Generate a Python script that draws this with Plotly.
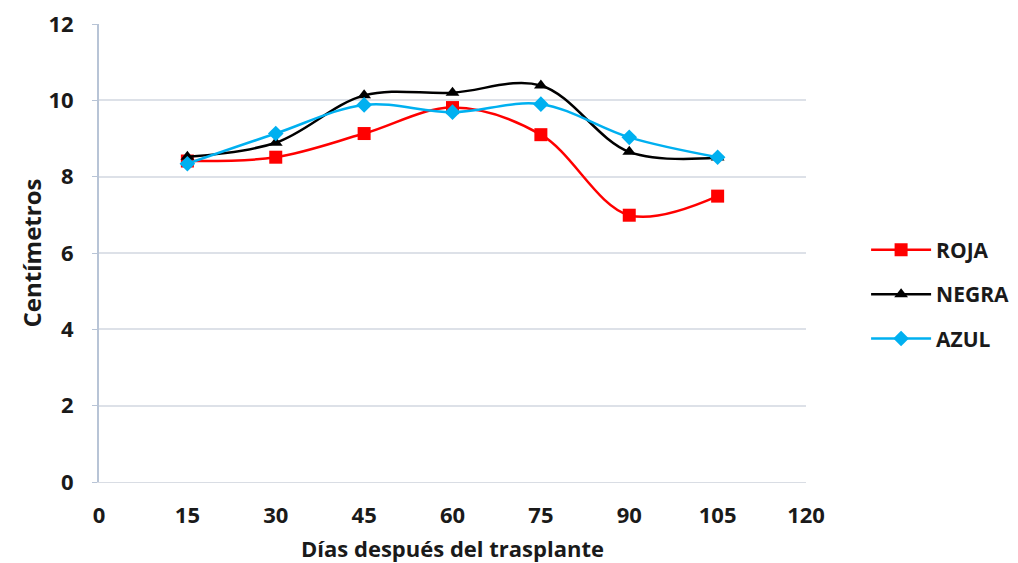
import plotly.graph_objects as go

dias = [15, 30, 45, 60, 75, 90, 105]
roja = [8.41, 8.51, 9.13, 9.81, 9.10, 6.99, 7.49]
negra = [8.52, 8.89, 10.13, 10.20, 10.39, 8.65, 8.50]
azul = [8.34, 9.13, 9.88, 9.69, 9.90, 9.03, 8.51]

x_ticks = [0, 15, 30, 45, 60, 75, 90, 105, 120]
y_ticks = [0, 2, 4, 6, 8, 10, 12]

FONT = "Open Sans, sans-serif"
TXT = "#1a1a1a"

fig = go.Figure()
series = [
    ("ROJA", roja, "#FF0000", "square", 13),
    ("NEGRA", negra, "#000000", "triangle-up", 12),
    ("AZUL", azul, "#00B0F0", "diamond", 12),
]
for i, (name, vals, col, sym, sz) in enumerate(series):
    fig.add_trace(go.Scatter(
        x=dias, y=vals, name=name, mode="lines+markers",
        line=dict(color=col, width=2.5, shape="spline", smoothing=1.0),
        marker=dict(symbol=sym, size=sz, color=col),
        legendgroup=f"g{i}",
    ))

fig.update_layout(
    width=1018, height=563,
    margin=dict(l=99, r=212, t=24, b=81, autoexpand=False),
    paper_bgcolor="white", plot_bgcolor="white",
    font=dict(family=FONT, size=20, color=TXT, weight="bold"),
    showlegend=True,
    legend=dict(x=1.085, y=0.41, xanchor="left", yanchor="middle",
                itemwidth=60,
                font=dict(family=FONT, size=21, color=TXT, weight="bold"),
                tracegroupgap=14, bgcolor="rgba(0,0,0,0)"),
    xaxis=dict(
        range=[0, 120], tickvals=x_ticks, ticktext=[str(v) for v in x_ticks],
        showgrid=False, zeroline=False, showline=True, linecolor="#D9DDE4", linewidth=1,
        ticks="", ticklabelstandoff=14, automargin=False,
        tickfont=dict(family=FONT, size=22, color=TXT, weight="bold"),
        title=dict(text="Días después del trasplante", standoff=18,
                   font=dict(family=FONT, size=22, color=TXT, weight="bold")),
    ),
    yaxis=dict(
        range=[0, 12], tickvals=y_ticks, automargin=False,
        showgrid=True, gridcolor="#DDE1E8", gridwidth=2, zeroline=False,
        showline=True, linecolor="#B8C4D6", linewidth=2,
        ticks="outside", ticklen=5, tickcolor="#B8C4D6",
        ticklabelstandoff=14,
        tickfont=dict(family=FONT, size=22, color=TXT, weight="bold"),
        title=dict(text="Centímetros", standoff=0,
                   font=dict(family=FONT, size=24, color=TXT, weight="bold")),
    ),
)

fig.write_html("out.html")
